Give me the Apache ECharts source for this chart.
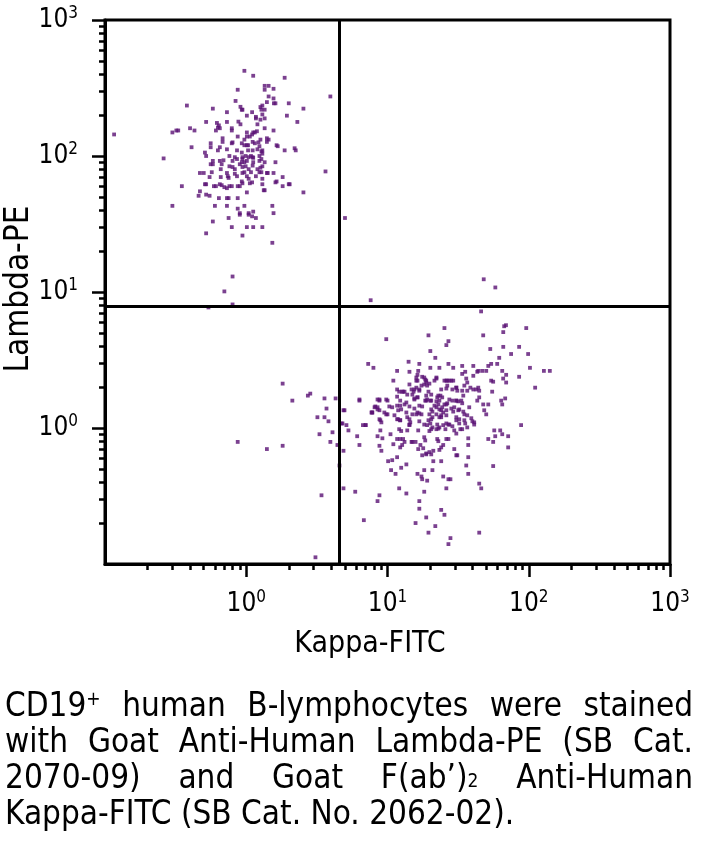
<!DOCTYPE html>
<html>
<head>
<meta charset="utf-8">
<script src="https://cdn.jsdelivr.net/npm/echarts@6/dist/echarts.min.js"></script>
<style>
  html, body { margin: 0; padding: 0; background: #fff; }
  #chart { width: 702px; height: 856px; }
</style>
</head>
<body>
<div id="chart"></div>
<script>
// ---------- data ----------
const xAxisTitle = 'Kappa-FITC';
const yAxisTitle = 'Lambda-PE';
const majorTicks = [1, 10, 100, 1000];
const minorTicks = [0.2,0.3,0.4,0.5,0.6,0.7,0.8,0.9, 2,3,4,5,6,7,8,9, 20,30,40,50,60,70,80,90, 200,300,400,500,600,700,800,900];
const kappaGate = 4.55;
const lambdaGate = 7.8;

// [Kappa-FITC, Lambda-PE]
const lambdaPopulation = [
[0.97,423],[1.12,389],[1.87,376],[0.87,307],[1.35,328],[1.44,328],[1.35,307],[1.56,312],[1.44,274],[1.40,249],[1.56,265],[1.57,244],[1.61,244],[2.0,244],[3.94,274],[0.84,254],[0.91,230],[0.93,219],[1.30,235],[1.28,219],[1.35,219],[2.54,223],[1.94,198],[0.38,235],[0.58,223],[0.73,210],[1.01,198],[1.10,210],[1.30,202],[1.35,189],[1.17,189],[0.88,179],[0.91,171],[2.30,178],[0.52,178],[0.62,175],[0.63,162],[0.64,168],[0.73,178],[0.79,160],[0.79,154],[0.40,160],[0.32,154],[0.33,154],[0.30,149],[0.43,154],[0.61,154],[0.65,160],[1.01,149],[1.19,152],[1.35,160],[1.56,154],[1.10,144],[1.12,149],[0.116,144],[1.40,135],[1.44,132],[0.87,139],[1.01,139],[0.68,135],[0.68,127],[0.79,124],[0.80,126],[0.93,124],[0.97,120],[1.01,120],[1.11,127],[1.15,124],[1.22,126],[1.40,127],[1.64,120],[0.41,116],[0.56,124],[0.56,116],[0.63,110],[0.65,116],[0.73,112],[0.86,110],[0.93,106],[1.03,110],[1.11,110],[1.20,112],[1.30,110],[1.87,110],[2.20,114],[2.24,110],[0.51,106],[0.52,100],[0.76,100],[0.83,98],[0.86,95],[0.99,100],[1.04,98],[1.08,100],[1.11,98],[1.24,100],[1.28,95],[0.26,96],[0.58,92],[0.69,93],[0.80,92],[0.94,95],[0.97,90],[1.01,92],[1.12,90],[1.24,92],[1.35,90],[0.56,87],[0.58,87],[0.65,92],[0.67,87],[0.76,84],[0.80,83],[0.83,80],[0.90,87],[0.94,83],[0.99,84],[1.04,80],[1.08,76],[1.20,80],[1.24,76],[1.28,76],[1.61,90],[3.64,77],[0.47,75],[0.50,75],[0.57,76],[0.66,80],[0.73,75],[0.74,71],[0.75,69],[0.83,74],[0.86,71],[0.97,76],[1.01,71],[1.40,75],[1.42,75],[1.56,75],[0.55,70],[0.66,70],[1.04,68],[1.10,64],[1.06,63],[1.30,68],[1.64,65],[1.81,70],[2.03,62],[0.51,62],[0.52,62],[0.59,60],[0.61,60],[0.65,62],[0.67,61],[0.70,59],[0.73,58],[0.76,60],[0.79,60],[0.87,60],[0.90,60],[0.94,63],[1.01,54],[1.30,62],[1.81,60],[0.35,60],[0.47,55],[0.46,51],[0.52,52],[0.55,51],[1.35,56],[2.54,54],[0.64,49],[0.75,49],[0.87,49],[0.73,49],[0.30,43],[0.60,43],[0.73,43],[0.97,43],[1.53,43],[0.87,41],[0.90,38],[1.04,38],[1.12,39],[1.10,36],[1.17,35],[1.56,38],[0.58,33],[0.75,35],[1.01,30],[1.12,30],[0.79,30],[1.30,30],[0.52,27],[0.94,26],[1.53,23],[5.0,35],[0.80,13],[0.70,10.1],[0.54,7.7],[0.80,8.1],
[1.26,229],[0.94,219],[1.17,194],[1.26,185],[1.20,171],[1.15,149],[0.97,132],[1.06,139],[1.26,132],[1.67,118],[1.03,120],[1.24,118],[1.28,108],[1.12,97],[1.30,104],[0.94,98],[0.93,90],[1.11,85],[1.30,84],[1.26,82],[0.94,75],[1.17,71],[0.93,65],[1.61,64],[2.0,62],[1.33,56],[0.90,37],[1.04,37]
];

const kappaPopulation = [
[25.3,5.43],[19.5,4.8],[47.6,4.8],[9.8,4.5],[67,5.6],[69,5.7],[66,5.07],[96,5.43],[27,4.35],[26.1,4.07],[53.4,3.81],[66,3.95],[85.5,3.95],[75,3.5],[99,3.5],[20.1,3.68],[21.8,3.28],[7.3,2.96],[7.95,2.77],[14.1,3.07],[16.8,2.96],[27,2.96],[33.8,2.86],[40.5,2.86],[51.7,2.86],[54.2,2.96],[59.8,2.96],[61.8,3.28],[102,2.77],[128,2.63],[141,2.63],[11.7,2.63],[14.3,2.59],[16.5,2.63],[16.3,2.46],[20.1,2.77],[23.3,2.77],[29.2,2.77],[33.8,2.5],[35.5,2.59],[40.5,2.42],[43.2,2.59],[43.9,2.63],[46.8,2.63],[50,2.63],[54.2,2.23],[56,2.19],[64.9,2.63],[65.9,2.31],[69.2,2.46],[69.2,2.16],[85.5,2.38],[111,1.98],[11,2.23],[14.3,2.09],[16,2.23],[17.6,2.38],[18.5,2.27],[18.8,2.16],[19.8,2.12],[22.2,2.35],[26.1,2.23],[27.4,2.23],[29.2,2.23],[36.1,2.31],[36.7,2.16],[38.6,1.98],[40.5,1.92],[43.9,1.98],[44.6,1.88],[55.1,1.85],[11.7,1.92],[12.7,1.85],[13.2,1.85],[14.8,1.92],[15.3,1.85],[15,1.76],[17.4,2.05],[16.8,1.92],[19.5,1.85],[20.4,1.76],[18.8,1.73],[22.9,1.73],[23.7,1.73],[24.4,1.68],[26.5,2.05],[28.8,1.92],[30.7,1.98],[33.8,1.88],[34.4,1.73],[10,1.59],[8.77,1.59],[12.3,1.59],[13.6,1.54],[15.5,1.65],[18.5,1.59],[18.8,1.59],[20.1,1.59],[22.9,1.49],[22.2,1.57],[25.3,1.49],[26.5,1.52],[30.7,1.59],[31.7,1.57],[33.3,1.59],[44.6,1.68],[43.2,1.59],[47.6,1.49],[51.7,1.49],[63.8,1.59],[68.1,1.65],[64.9,1.49],[6.33,1.59],[8.2,1.44],[8.5,1.42],[8.5,1.37],[7.7,1.3],[7.8,1.3],[9.5,1.3],[9.8,1.26],[10.3,1.44],[10.8,1.42],[11.9,1.35],[12.5,1.37],[13.6,1.3],[15.5,1.39],[15,1.26],[16.3,1.3],[17.4,1.26],[20.4,1.37],[20.8,1.32],[23.3,1.37],[24,1.35],[24.8,1.3],[26.1,1.35],[28.3,1.39],[29.2,1.32],[31.7,1.35],[34.4,1.32],[35,1.26],[48.4,1.35],[50,1.26],[4.96,1.35],[8.9,1.14],[9.05,1.1],[11.9,1.16],[12.3,1.14],[13.8,1.2],[14.5,1.1],[14.3,1.06],[16.8,1.12],[19.5,1.14],[20.4,1.16],[20.1,1.08],[23.3,1.2],[24,1.24],[26.1,1.08],[27,1.06],[30.7,1.14],[32.2,1.08],[35,1.14],[35.5,1.08],[39.9,1.12],[41.1,1.1],[4.72,1.08],[5.12,1.05],[6.7,1.05],[7.0,1.05],[88.3,1.05],[5.29,0.96],[8.9,0.96],[12.1,0.98],[12.5,0.95],[14.3,1.05],[13.8,0.96],[16.5,0.96],[19.8,0.95],[20.4,0.98],[20.8,1.01],[22.2,0.98],[22.9,0.99],[24.8,1.05],[25.7,0.98],[29.7,0.96],[30.7,0.91],[32.8,0.98],[57,0.96],[62.8,0.96],[64.9,0.9],[57.9,0.87],[6.1,0.87],[8.5,0.87],[9.2,0.84],[10.5,0.9],[11.7,0.83],[12.3,0.83],[12.9,0.83],[14.8,0.79],[18.2,0.855],[18.5,0.81],[22.5,0.83],[22.9,0.8],[26.1,0.83],[27,0.83],[37.3,0.84],[51.7,0.83],[56,0.79],[71.5,0.87],[6.33,0.75],[8.77,0.74],[9.05,0.68],[11,0.76],[12.3,0.72],[12.7,0.75],[13.2,0.79],[15,0.79],[15.8,0.79],[17.1,0.75],[16.5,0.7],[17.9,0.71],[18.8,0.65],[19.8,0.665],[20.4,0.64],[21.1,0.68],[23.3,0.69],[24,0.72],[24.8,0.75],[29.7,0.7],[30.7,0.63],[31.2,0.63],[37.3,0.75],[71.5,0.72],[4.88,0.68],[10.1,0.57],[10.8,0.58],[10.6,0.49],[11.7,0.61],[12.5,0.51],[13.6,0.54],[17.6,0.63],[18.8,0.64],[21.1,0.57],[24,0.57],[36.1,0.53],[37.3,0.61],[56,0.525],[4.57,0.53],[11.4,0.46],[16.3,0.46],[17.6,0.42],[17.4,0.44],[18.2,0.49],[20.8,0.49],[19.1,0.41],[27,0.42],[27.9,0.42],[24.8,0.44],[37.3,0.46],[44.6,0.39],[46.1,0.36],[4.88,0.36],[5.91,0.34],[12.1,0.36],[13.6,0.33],[18.2,0.34],[26.1,0.36],[8.77,0.32],[8.5,0.29],[16.8,0.29],[16.8,0.255],[24,0.25],[25.3,0.23],[18.8,0.22],[6.8,0.21],[15.8,0.2],[21.8,0.19],[19.5,0.17],[44.6,0.17],[27.9,0.155],[27,0.14],
[0.87,0.79],[1.40,0.70],[1.81,0.74],[1.81,2.12],[2.12,1.59],[2.73,1.73],[2.84,1.79],[3.58,1.65],[4.29,1.65],[3.70,1.39],[3.19,1.2],[3.58,1.2],[3.82,1.12],[3.30,0.9],[4.08,0.93],[3.94,0.79],[4.42,0.75],[3.41,0.32],[3.09,0.112],
[48,12.4],[58,10.8],[7.6,8.7],[46,7.2],
[8.5,1.62],[8.77,1.62],[9.8,1.62],[6.33,1.62],[12.1,1.85],[12.9,1.85],[13.8,1.76],[11.7,1.70],[15.5,1.92],[16.3,1.68],[11.7,1.46],[12.3,1.46],[13.2,1.49],[14.3,1.44],[8.1,1.42],[8.77,1.35],[7.8,1.30],[10,1.26],[11.2,1.24],[8.77,1.16],[11.7,1.16],[12.3,1.14],[14.3,1.16],[7.0,1.05],[4.88,1.35],[4.80,1.08],
[16,2.35],[16.3,2.23],[18.2,2.35],[18.8,2.23],[21.5,2.23],[22.2,2.31],[25.3,2.23],[26.5,2.23],[28.3,2.23],[16,1.98],[16.8,1.88],[18.2,2.09],[19.1,2.05],[24,1.92],[26.1,1.95],[30.7,1.98],[31.2,1.88],[35,2.05],[36.7,1.88],[42.5,1.92],[15.5,1.62],[16.3,1.68],[19.1,1.62],[20.4,1.59],[22.5,1.68],[23.3,1.59],[27.4,1.62],[28.8,1.59],[30.7,1.59],[33.8,1.52],[16.8,1.46],[17.6,1.44],[21.5,1.46],[22.2,1.42],[24.4,1.42],[26.1,1.49],[29.7,1.42],[32.2,1.37],[37.9,1.42],[16,1.26],[16.8,1.28],[19.8,1.26],[20.8,1.20],[22.2,1.26],[24,1.20],[26.1,1.24],[30.7,1.20],[32.2,1.16],[36.7,1.24],[39.2,1.18],[18.2,1.06],[19.1,1.05],[22.5,1.06],[23.3,1.01],[27.4,1.06],[28.8,1.03],[33.8,0.98],[36.7,1.01],[41.1,1.06]
];

const captionLines = [
  'CD19{sup|+} human B-lymphocytes were stained',
  'with Goat Anti-Human Lambda-PE (SB Cat.',
  '2070-09) and Goat F(ab\u2019){sub|2} Anti-Human',
  'Kappa-FITC (SB Cat. No. 2062-02).'
];

// ---------- styling ----------
const FONT = '"Liberation Sans Narrow", "DejaVu Sans Condensed", Roboto, sans-serif';
const DOT = '#5a1274';
const CAP_SIZE = 33, CAP_SMALL = 19;

const expLabel = v => '{b|10}{s|' + Math.round(Math.log10(v)) + '}';
const labelRich = {
  b: { fontSize: 26, fontFamily: FONT, color: '#000', lineHeight: 26 },
  s: { fontSize: 17, fontFamily: FONT, color: '#000', padding: [0, 0, 13, 0] }
};

function axisPair(dim) {
  const common = { type: 'log', logBase: 10, min: 0.1, max: 1000, splitLine: { show: false } };
  const main = Object.assign({}, common, {
    position: dim === 'x' ? 'bottom' : 'left',
    axisLine: { show: true, lineStyle: { color: '#000', width: 3 } },
    axisTick: { show: true, inside: false, length: 13, lineStyle: { color: '#000', width: 2.5 }, customValues: majorTicks },
    axisLabel: { show: true, customValues: majorTicks, formatter: expLabel, rich: labelRich, margin: dim === 'x' ? 25 : 27 }
  });
  const minor = Object.assign({}, common, {
    position: dim === 'x' ? 'bottom' : 'left',
    axisLine: { show: false },
    axisTick: { show: true, inside: false, length: 6, lineStyle: { color: '#000', width: 2.5 }, customValues: minorTicks },
    axisLabel: { show: false }
  });
  return [main, minor];
}

// ---------- caption layout (justified) ----------
const measureCtx = document.createElement('canvas').getContext('2d');
function measure(text, size) {
  measureCtx.font = size + 'px ' + FONT;
  return measureCtx.measureText(text).width;
}
function wordWidth(word) {
  let w = 0;
  const re = /\{(sup|sub)\|([^}]*)\}/g;
  let last = 0, m;
  while ((m = re.exec(word))) {
    w += measure(word.slice(last, m.index), CAP_SIZE);
    w += measure(m[2], CAP_SMALL);
    last = re.lastIndex;
  }
  w += measure(word.slice(last), CAP_SIZE);
  return w;
}
function buildCaption() {
  const left = 5, right = 693, top = 707, step = 36;
  const els = [];
  captionLines.forEach((line, i) => {
    const words = line.split(' ');
    const widths = words.map(wordWidth);
    const total = widths.reduce((a, b) => a + b, 0);
    const justify = i < captionLines.length - 1;
    const gap = justify ? (right - left - total) / (words.length - 1) : measure(' ', CAP_SIZE);
    let x = left;
    words.forEach((w, j) => {
      els.push({
        type: 'text', x: x, y: top + i * step, silent: true,
        style: {
          text: w, fill: '#000', fontSize: CAP_SIZE, fontFamily: FONT, verticalAlign: 'middle',
          rich: {
            sup: { fontSize: CAP_SMALL, fontFamily: FONT, fill: '#000', padding: [0, 0, 14, 0] },
            sub: { fontSize: CAP_SMALL, fontFamily: FONT, fill: '#000', padding: [6, 0, 0, 0] }
          }
        }
      });
      x += widths[j] + gap;
    });
  });
  return els;
}

const [xMain, xMinor] = axisPair('x');
const [yMain, yMinor] = axisPair('y');

const chart = echarts.init(document.getElementById('chart'), null, { renderer: 'canvas' });
chart.setOption({
  animation: false,
  backgroundColor: '#fff',
  grid: { left: 105, top: 20, width: 565, height: 544, show: true, borderColor: '#000', borderWidth: 3, backgroundColor: 'transparent' },
  xAxis: [xMain, xMinor],
  yAxis: [yMain, yMinor],
  graphic: [
    { type: 'text', x: 370, y: 644, silent: true,
      style: { text: xAxisTitle, fontSize: 30, fontFamily: FONT, fill: '#000', align: 'center', verticalAlign: 'middle' } },
    { type: 'text', x: 19, y: 289, rotation: Math.PI / 2, silent: true,
      style: { text: yAxisTitle, fontSize: 33, fontFamily: FONT, fill: '#000', align: 'center', verticalAlign: 'middle' } }
  ].concat(buildCaption()),
  series: [
    {
      name: 'Lambda+', type: 'scatter', xAxisIndex: 0, yAxisIndex: 0,
      data: lambdaPopulation, symbol: 'rect', symbolSize: 3.8, itemStyle: { color: DOT },
      markLine: {
        silent: true, symbol: 'none', label: { show: false },
        lineStyle: { color: '#000', width: 3, type: 'solid' },
        data: [{ xAxis: kappaGate }, { yAxis: lambdaGate }]
      }
    },
    {
      name: 'Kappa+', type: 'scatter', xAxisIndex: 0, yAxisIndex: 0,
      data: kappaPopulation, symbol: 'rect', symbolSize: 3.8, itemStyle: { color: DOT }
    }
  ]
});
</script>
</body>
</html>
